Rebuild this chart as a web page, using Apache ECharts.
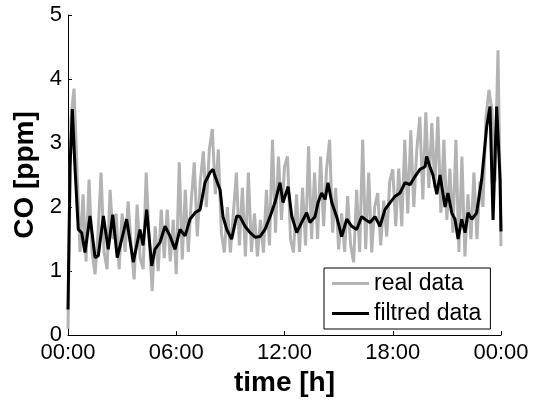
<!DOCTYPE html>
<html>
<head>
<meta charset="utf-8">
<script src="https://cdn.jsdelivr.net/npm/echarts@6/dist/echarts.min.js"></script>
<style>
  html, body { margin: 0; padding: 0; background: #fff; }
  #main { width: 542px; height: 402px; }
</style>
</head>
<body>
<div id="main"></div>
<script>
// x axis ticks (hours) and their labels
var hourTicks = [0, 6, 12, 18, 24];
var hourLabels = ['00:00', '06:00', '12:00', '18:00', '00:00'];

// real data: one sample every 10 minutes, 00:00 .. 24:00
var realStep = 1 / 6;
var realValue = [
  0.1, 3.4, 3.85, 2.6, 1.3, 2.2, 1.15, 2.43, 1.3, 0.95,
  1.6, 2.54, 1.3, 1.03, 2.27, 1.5, 1.9, 1.03, 1.9, 1.3,
  2.09, 1.4, 0.87, 2.04, 1.2, 1.03, 2.54, 1.5, 0.69, 1.7,
  1.0, 1.96, 1.2, 1.96, 1.15, 1.8, 0.95, 2.7, 1.18, 2.27,
  1.3, 2.1, 2.7, 1.54, 2.4, 2.87, 2.0, 2.9, 3.22, 2.2,
  2.9, 1.6, 1.29, 2.0, 1.29, 1.9, 2.54, 1.4, 2.3, 1.23,
  2.54, 1.3, 1.9, 1.23, 1.8, 1.29, 2.27, 1.4, 3.05, 1.6,
  2.79, 1.8, 2.63, 2.79, 1.5, 1.29, 2.2, 1.3, 2.3, 1.4,
  2.95, 1.5, 2.54, 1.5, 2.79, 1.7, 2.6, 3.05, 1.6, 2.3,
  1.34, 1.9, 1.3, 2.17, 1.4, 1.14, 2.27, 1.3, 3.05, 1.34,
  2.54, 1.29, 2.0, 2.22, 1.4, 2.1, 1.54, 2.4, 2.59, 1.7,
  2.6, 1.7, 3.05, 1.9, 3.2, 2.0, 2.9, 3.41, 2.12, 3.48,
  2.3, 3.31, 2.3, 3.41, 1.91, 3.05, 1.8, 2.6, 1.6, 3.05,
  1.3, 2.79, 1.23, 2.2, 1.5, 2.54, 1.5, 2.4, 2.0, 3.4,
  3.83, 3.5, 2.4, 4.45, 1.39
];

// filtered data: time (h) and value (ppm)
var filtTime = [
  0, 0.11, 0.24, 0.39, 0.57, 0.76, 0.94, 1.22, 1.50, 1.68,
  1.96, 2.23, 2.48, 2.73, 2.98, 3.25, 3.62, 3.99, 4.16, 4.36,
  4.64, 4.82, 5.10, 5.38, 5.65, 5.93, 6.21, 6.49, 6.76, 7.04,
  7.32, 7.59, 7.87, 8.04, 8.15, 8.43, 8.59, 8.80, 9.07, 9.35,
  9.53, 9.81, 10.09, 10.37, 10.64, 10.92, 11.20, 11.47, 11.75, 11.92,
  12.20, 12.40, 12.68, 12.95, 13.23, 13.41, 13.69, 13.86, 14.06, 14.25,
  14.41, 14.62, 14.89, 15.17, 15.45, 15.73, 16.00, 16.28, 16.46, 16.74,
  17.02, 17.29, 17.57, 17.85, 18.13, 18.40, 18.68, 18.96, 19.24, 19.51,
  19.79, 19.88, 20.07, 20.23, 20.44, 20.62, 20.90, 21.06, 21.27, 21.45,
  21.62, 21.82, 22.01, 22.17, 22.38, 22.65, 22.93, 23.21, 23.39, 23.56,
  23.76, 23.95, 24.0
];
var filtValue = [
  0.4, 2.6, 3.53, 2.6, 1.65, 1.6, 1.29, 1.86, 1.21, 1.24,
  1.86, 1.34, 1.88, 1.21, 1.5, 1.81, 1.14, 1.65, 1.4, 1.96,
  1.08, 1.34, 1.45, 1.70, 1.55, 1.34, 1.65, 1.55, 1.81, 1.91,
  1.96, 2.38, 2.54, 2.59, 2.48, 2.27, 1.85, 1.65, 1.5, 1.86,
  1.85, 1.70, 1.6, 1.53, 1.54, 1.65, 1.85, 2.07, 2.38, 2.07,
  2.32, 1.86, 1.6, 1.76, 1.91, 1.76, 1.85, 2.07, 2.22, 2.12,
  2.38, 2.07, 1.85, 1.54, 1.81, 1.70, 1.65, 1.85, 1.81, 1.76,
  1.85, 1.70, 1.96, 2.07, 2.17, 2.22, 2.38, 2.35, 2.48, 2.59,
  2.63, 2.79, 2.62, 2.5, 2.2, 2.5, 2.0, 2.22, 1.91, 1.81,
  1.5, 1.81, 1.6, 1.91, 1.81, 1.91, 2.43, 3.26, 3.57, 1.8,
  3.57, 2.43, 1.62
];

var realData = realValue.map(function(v, i) {
  return [i * realStep, v];
});
var filtData = filtTime.map(function(t, i) {
  return [t, filtValue[i]];
});

var chart = echarts.init(document.getElementById('main'), null, { renderer: 'canvas' });
var font = '"Liberation Sans", Arial, sans-serif';

chart.setOption({
  animation: false,
  backgroundColor: '#fff',
  textStyle: { fontFamily: font },
  grid: { left: 68, right: 41, top: 15, bottom: 66 },
  legend: {
    orient: 'vertical',
    left: 324,
    top: 268,
    padding: [4, 9, 4, 8],
    itemGap: 7,
    itemWidth: 37,
    itemHeight: 3,
    borderColor: '#000',
    borderWidth: 1,
    borderRadius: 0,
    backgroundColor: '#fff',
    textStyle: { fontFamily: font, fontSize: 23, color: '#000' },
    data: [
      { name: 'real data', icon: 'rect' },
      { name: 'filtred data', icon: 'rect' }
    ]
  },
  xAxis: {
    type: 'value',
    min: 0,
    max: 24,
    interval: 6,
    name: 'time [h]',
    nameLocation: 'middle',
    nameGap: 30,
    nameTextStyle: { fontFamily: font, fontSize: 28, fontWeight: 'bold', color: '#000' },
    splitLine: { show: false },
    axisLine: { lineStyle: { color: '#000', width: 1 } },
    axisTick: { inside: true, length: 4, lineStyle: { color: '#000' } },
    axisLabel: {
      margin: 7,
      fontFamily: font,
      fontSize: 22,
      color: '#000',
      formatter: function(v) {
        var i = hourTicks.indexOf(v);
        return i >= 0 ? hourLabels[i] : '';
      }
    }
  },
  yAxis: {
    type: 'value',
    min: 0,
    max: 5,
    interval: 1,
    name: 'CO [ppm]',
    nameLocation: 'middle',
    nameGap: 24,
    nameTextStyle: { fontFamily: font, fontSize: 28, fontWeight: 'bold', color: '#000' },
    splitLine: { show: false },
    axisLine: { show: true, lineStyle: { color: '#000', width: 1 } },
    axisTick: { show: true, inside: true, length: 4, lineStyle: { color: '#000' } },
    axisLabel: { margin: 6, fontFamily: font, fontSize: 22, color: '#000' }
  },
  series: [
    {
      name: 'real data',
      type: 'line',
      data: realData,
      showSymbol: false,
      symbol: 'none',
      color: '#b3b3b3',
      lineStyle: { color: '#b3b3b3', width: 3 }
    },
    {
      name: 'filtred data',
      type: 'line',
      data: filtData,
      showSymbol: false,
      symbol: 'none',
      color: '#000',
      lineStyle: { color: '#000', width: 3 }
    }
  ]
});
</script>
</body>
</html>
